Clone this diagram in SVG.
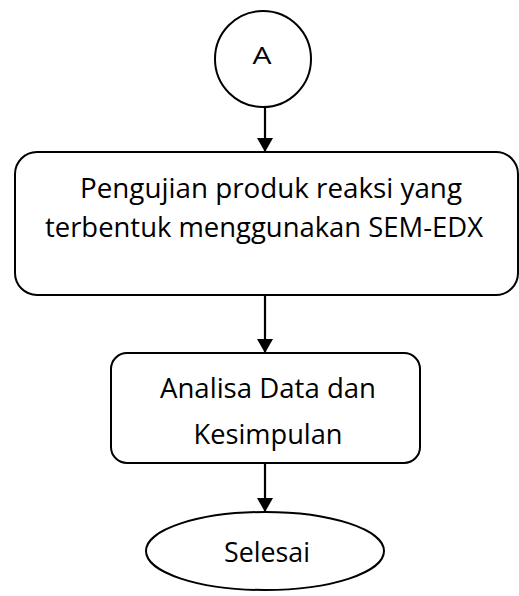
<svg xmlns="http://www.w3.org/2000/svg" width="519" height="596" viewBox="0 0 519 596">
<style>
.shape{fill:#fff;stroke:#000;stroke-width:2}
.lbl{font-family:"Open Sans","Liberation Sans",sans-serif;font-size:27px;fill:#000;text-anchor:middle}
.conn{stroke:#000;stroke-width:2.2;fill:none}
</style>
<defs>
<marker id="ah" viewBox="0 0 14 16" refX="14" refY="8" markerWidth="14" markerHeight="16" markerUnits="userSpaceOnUse" orient="auto">
<path d="M0,0 L14,8 L0,16 Z" fill="#000"/>
</marker>
</defs>
<rect width="519" height="596" fill="#fff"/>
<g id="connectors">
<line class="conn" x1="265" y1="108" x2="265" y2="152" marker-end="url(#ah)"/>
<line class="conn" x1="265" y1="295" x2="265" y2="353" marker-end="url(#ah)"/>
<line class="conn" x1="265" y1="463" x2="265" y2="512" marker-end="url(#ah)"/>
</g>
<g id="nodeA">
<circle class="shape" cx="263" cy="59" r="48"/>
<text class="lbl" x="262" y="64" style="font-size:24px" textLength="19" lengthAdjust="spacingAndGlyphs">A</text>
</g>
<g id="node1">
<rect class="shape" x="15" y="152" width="503" height="143" rx="22" ry="22"/>
<text class="lbl" x="271" y="198" textLength="382" lengthAdjust="spacingAndGlyphs">Pengujian produk reaksi yang</text>
<text class="lbl" x="264" y="237" textLength="438" lengthAdjust="spacingAndGlyphs">terbentuk menggunakan SEM-EDX</text>
</g>
<g id="node2">
<rect class="shape" x="111" y="353" width="309" height="110" rx="16" ry="16"/>
<text class="lbl" x="268" y="398" textLength="216" lengthAdjust="spacingAndGlyphs">Analisa Data dan</text>
<text class="lbl" x="268" y="444" textLength="149" lengthAdjust="spacingAndGlyphs">Kesimpulan</text>
</g>
<g id="node3">
<ellipse class="shape" cx="265" cy="551" rx="119" ry="39"/>
<text class="lbl" x="267" y="562" textLength="86" lengthAdjust="spacingAndGlyphs">Selesai</text>
</g>
</svg>
